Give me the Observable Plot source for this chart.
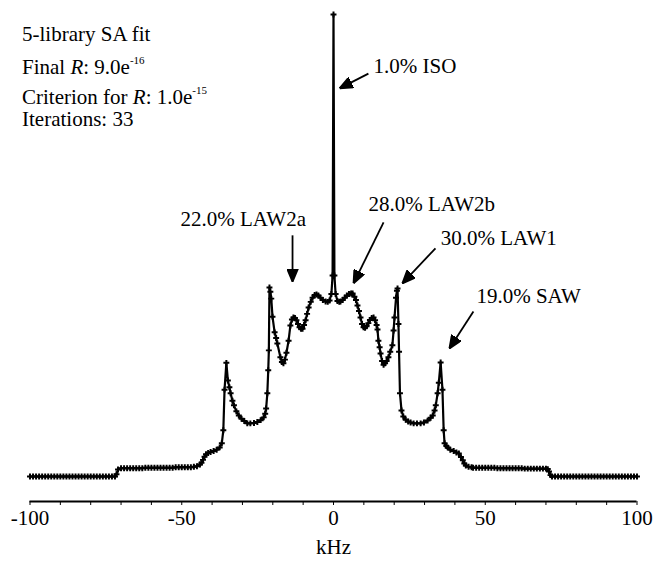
<!DOCTYPE html>
<html>
<head>
<meta charset="utf-8">
<script src="https://cdn.jsdelivr.net/npm/d3@7"></script>
<script src="https://cdn.jsdelivr.net/npm/@observablehq/plot@0.6"></script>
<style>
  html, body { margin: 0; padding: 0; background: white; }
  #wrap { position: relative; width: 654px; height: 562px; font-family: "Liberation Serif", "Times New Roman", serif; color: black; }
  .info { position: absolute; left: 22px; font-size: 21px; line-height: 21px; white-space: nowrap; }
  .info sup { font-size: 11px; vertical-align: 0; position: relative; top: -10px; }
  .info i { font-style: italic; }
</style>
</head>
<body>
<div id="wrap">
  <div class="info" style="top:24px">5-library SA fit</div>
  <div class="info" style="top:57px">Final <i>R</i>: 9.0e<sup>-16</sup></div>
  <div class="info" style="top:87px">Criterion for <i>R</i>: 1.0e<sup>-15</sup></div>
  <div class="info" style="top:109px">Iterations: 33</div>
</div>
<script>
// ---- spectrum values (kHz, relative intensity) ----
const leftKHz = [
  -100,-99,-98,-97,-96,-95,-94,-93,-92,-91,-90,-89,-88,-87,-86,-85,-84,-83,-82,-81,-80,-79,-78,-77,-76,-75,-74,-73,-72,
  -71.5,-71,-70,-69,-68,-67,-66,-65,-64,-63,-62,-61,-60,-59,-58,-57,-56,-55,-54,-53,-52,-51,-50,-49,-48,-47,-46,-45,-44,
  -43.5,-43,-42.5,-42,-41.3,-40.5,-39.5,-38.5,-37.5,-36.8,-36.3,-35.9,-35.3,-34.8,-34.3,-33.9,-33.3,-32.8,-32,-31.2,-30.3,
  -29.4,-28.4,-27.4,-26.2,-25.1,-24,-23,-22.5,-22.2,-21.8,-21.5,-21.3,-21.1,-20.8,-20.5,-20.1,-19.4,-18.9,-18.5,-17.5,-17,
  -16.5,-16,-15.5,-14.8,-14.2,-13.7,-13.2,-12.7,-12.2,-11.7,-11.2,-10.7,-10.2,-9.7,-9.2,-8.7,-8.2,-7.5,-6.9,-6.2,-5.6,-5,
  -4.3,-3.5,-2.6,-1.9,-1.3,-0.7,-0.3
];
const leftI = [
  0,0,0,0,0,0,0,0,0,0,0,0,0,0,0,0,0,0,0,0,0,0,0,0,0,0,0,0,0,
  0.5,1.5,1.8,1.8,1.8,1.8,1.8,1.8,1.8,1.8,1.9,1.9,1.9,1.9,1.9,1.9,1.9,1.9,1.9,1.9,2.0,2.0,2.0,2.0,2.0,2.0,2.1,2.2,2.6,
  3.0,3.6,4.3,4.8,5.1,5.3,5.5,5.8,6.3,7.2,10.0,18.8,24.6,20.8,19.3,18.0,16.4,15.4,14.1,13.2,12.5,
  12.0,11.5,11.5,11.6,11.8,12.2,12.8,13.6,14.7,18.0,23.0,27.3,40.9,40.0,38.5,34.6,31.2,30.0,28.8,25.8,24.8,
  24.5,25.3,26.8,29.4,32.7,34.0,34.4,34.3,33.8,33.0,32.3,32.0,32.0,32.8,33.8,35.2,36.6,37.8,38.7,39.3,39.4,39.2,
  38.7,38.2,37.9,37.8,38.1,39.5,43.5
];
const isoKHz = [0];
const isoI = [100];
const rightKHz = [
  0.3,0.7,1.3,1.9,2.3,3.0,3.7,4.4,5.1,5.8,6.3,6.9,7.4,7.9,8.4,8.9,9.4,9.9,10.4,10.9,11.5,12.0,12.6,13.2,13.7,14.2,14.5,
  14.8,15.2,15.5,16.0,16.5,17.0,17.5,18.1,18.7,19.4,19.8,20.1,20.6,20.9,21.1,21.4,21.6,21.9,22.4,23.0,23.8,24.6,25.4,
  26.4,27.5,28.7,29.8,31.0,32.0,32.7,33.3,33.7,34.3,34.7,35.3,35.9,36.3,36.6,37.2,37.6,38.5,39.6,40.5,41.3,42.0,42.6,
  43.1,43.6,44.5,45.5,46,47,48,49,50,51,52,53,54,55,56,57,58,59,60,61,62,63,64,65,66,67,68,69,70,70.6,71,71.5,
  72,73,74,75,76,77,78,79,80,81,82,83,84,85,86,87,88,89,90,91,92,93,94,95,96,97,98,99,100
];
const rightI = [
  43.5,39.5,38.0,37.8,37.9,38.2,38.7,39.2,39.5,39.6,39.6,38.9,38.2,37.0,35.8,34.4,33.0,32.3,32.2,32.5,33.2,33.9,34.3,34.4,33.8,32.8,31.8,
  29.4,28.0,26.6,25.0,24.2,24.5,25.0,25.8,27.0,28.4,31.6,34.4,38.7,40.2,40.7,33.0,27.0,18.0,14.3,13.0,12.3,11.9,11.7,
  11.5,11.5,11.5,11.7,12.1,12.7,13.2,14.3,15.4,18.0,20.3,24.7,18.8,10.0,7.2,6.6,6.3,5.8,5.5,5.2,5.0,4.2,3.5,
  2.8,2.4,2.1,2.0,1.9,1.9,1.9,1.9,1.9,1.9,1.9,1.9,1.8,1.8,1.8,1.8,1.8,1.8,1.8,1.8,1.8,1.7,1.7,1.7,1.7,1.7,1.7,1.7,1.7,1.6,1.1,0.3,
  0,0,0,0,0,0,0,0,0,0,0,0,0,0,0,0,0,0,0,0,0,0,0,0,0,0,0,0,0
];

// ---- axis ----
const tickValues = [-100,-90,-80,-70,-60,-50,-40,-30,-20,-10,0,10,20,30,40,50,60,70,80,90,100];
const labeledTicks = [-100,-50,0,50,100];

// ---- annotations ----
const annLabels = ["1.0% ISO","22.0% LAW2a","28.0% LAW2b","30.0% LAW1","19.0% SAW"];
const annTextX  = [13.2, -50.4, 11.5, 35.3, 47.1];
const annTextY  = [88.7, 55.6, 59.0, 51.5, 39.0];
const arrowFromX = [11.5, -13.5, 16.5, 33.6, 46.1];
const arrowFromY = [87.2, 52.2, 55.0, 49.4, 35.7];
const arrowToX   = [2.0, -13.5, 6.6, 22.7, 38.2];
const arrowToY   = [84.0, 42.2, 41.8, 41.8, 27.7];

const yMin = -5.41, yMax = 100;

const kHz = [...leftKHz, ...isoKHz, ...rightKHz];
const inten = [...leftI, ...isoI, ...rightI];
const spectrum = kHz.map((k, i) => ({k, v: inten[i]}));
const anns = annLabels.map((t, i) => ({t, x: annTextX[i], y: annTextY[i],
  x1: arrowFromX[i], y1: arrowFromY[i], x2: arrowToX[i], y2: arrowToY[i]}));

function filledHead(color) {
  const ns = "http://www.w3.org/2000/svg";
  const m = document.createElementNS(ns, "marker");
  m.setAttribute("viewBox", "-13 -6 13 12");
  m.setAttribute("markerWidth", 13);
  m.setAttribute("markerHeight", 12);
  m.setAttribute("markerUnits", "userSpaceOnUse");
  m.setAttribute("orient", "auto");
  m.setAttribute("refX", 0);
  m.setAttribute("refY", 0);
  const p = document.createElementNS(ns, "path");
  p.setAttribute("d", "M-13,-5.5L0,0L-13,5.5Z");
  p.setAttribute("fill", color === "currentColor" ? "black" : color);
  m.appendChild(p);
  return m;
}

const chart = Plot.plot({
  width: 654,
  height: 562,
  marginLeft: 29.5,
  marginRight: 17.5,
  marginTop: 14,
  marginBottom: 61,
  style: {fontFamily: "Liberation Serif", fontSize: "21px", color: "black", background: "transparent", overflow: "visible"},
  x: {
    domain: [-100, 100],
    ticks: tickValues,
    tickFormat: d => labeledTicks.includes(d) ? String(d) : "",
    tickSize: 4,
    tickPadding: 5,
    label: "kHz",
    labelArrow: "none",
    labelAnchor: "center",
    labelOffset: 52
  },
  y: {domain: [yMin, yMax], axis: null},
  marks: [
    Plot.ruleY([yMin], {stroke: "black", strokeWidth: 2}),
    Plot.line(spectrum, {x: "k", y: "v", stroke: "black", strokeWidth: 2.2}),
    Plot.dot(spectrum, {x: "k", y: "v", symbol: "cross", r: 2.5, fill: "black", stroke: "none"}),
    Plot.link(anns, {x1: "x1", y1: "y1", x2: "x2", y2: "y2", stroke: "black", strokeWidth: 1.8, markerEnd: filledHead}),
    Plot.text(anns, {x: "x", y: "y", text: "t", textAnchor: "start", lineAnchor: "middle", fontSize: 21, fill: "black"})
  ]
});
chart.style.position = "absolute";
chart.style.left = "0px";
chart.style.top = "0px";
document.getElementById("wrap").prepend(chart);
</script>
</body>
</html>
